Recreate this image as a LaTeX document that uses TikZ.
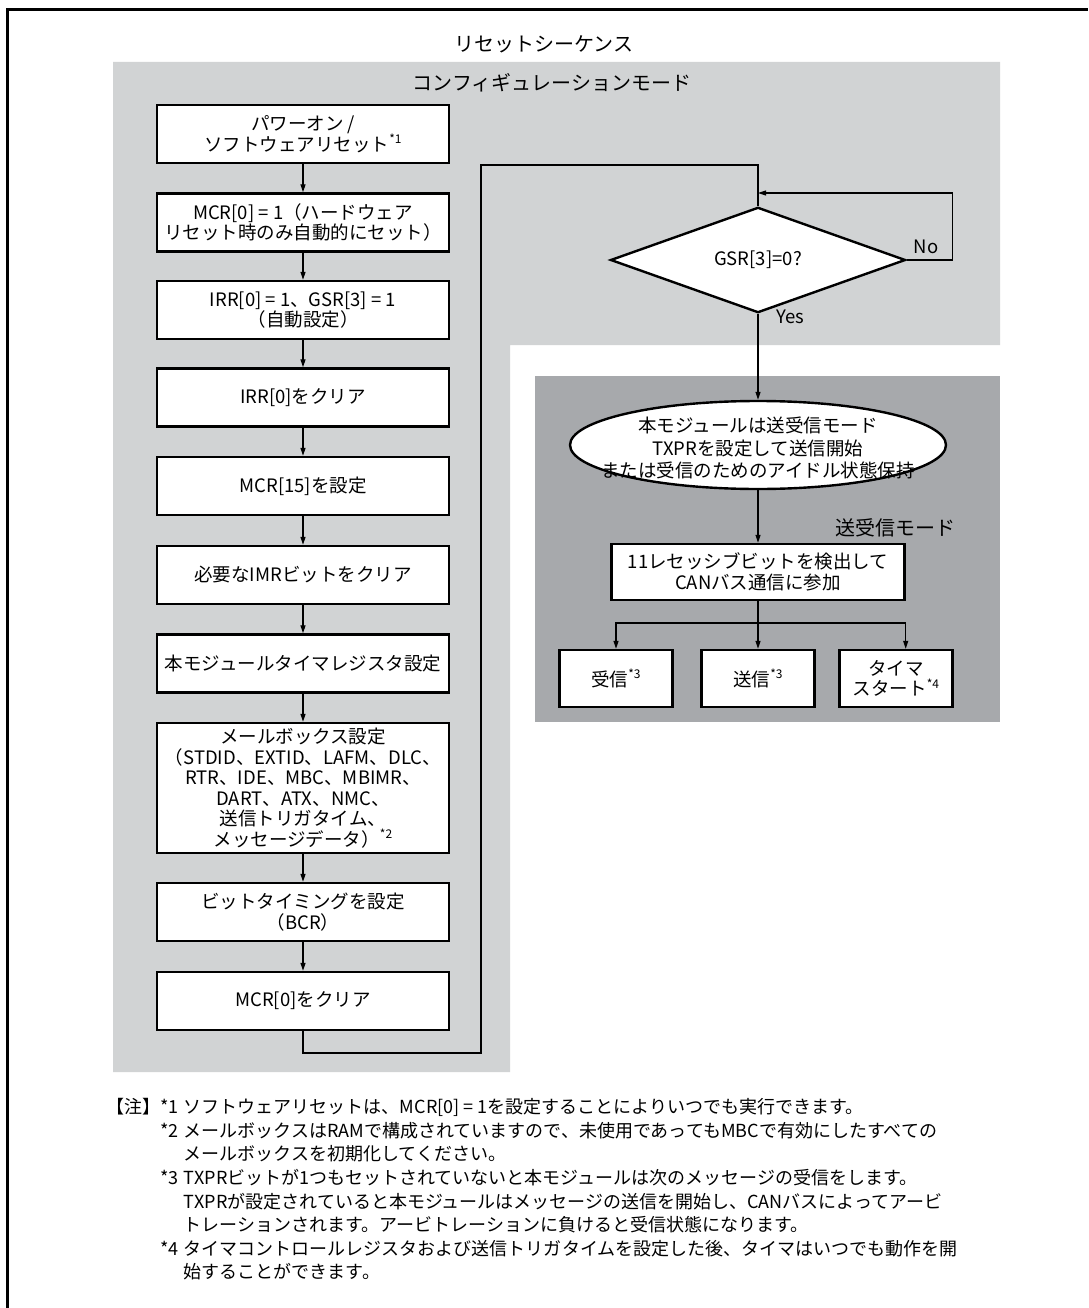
\documentclass[tikz,border=0pt]{standalone}
\usepackage{fontspec}
\setmainfont{Noto Sans CJK JP}
\usepackage{xcolor}
\usepackage{tikz}
\usetikzlibrary{shapes.geometric,arrows.meta,positioning,calc}
\definecolor{cfggray}{RGB}{209,211,212}
\definecolor{trxgray}{RGB}{167,169,172}
\newcommand{\boxfont}{\fontsize{18.5}{20.5}\selectfont}
\newcommand{\ttlfont}{\fontsize{20}{24}\selectfont}
\newcommand{\notefont}{\fontsize{18}{23.6}\selectfont}
\newcommand{\stref}[1]{\raisebox{0.4em}{\fontsize{12}{12}\selectfont *#1}}
\tikzset{
  stepbox/.style={rectangle, draw, line width=2.4pt, fill=white, minimum height=58pt,
              minimum width=292pt, inner sep=3pt, align=center, font=\boxfont},
  smallbox/.style={stepbox, minimum width=113pt, minimum height=57pt},
  decbox/.style={diamond, draw, line width=2.4pt, fill=white, minimum width=295pt,
              minimum height=88pt, inner sep=0pt, font=\boxfont},
  idlebox/.style={ellipse, draw, line width=2.4pt, fill=white, minimum width=376pt,
              minimum height=88pt, inner sep=0pt},
  ttl/.style={inner sep=0pt, font=\ttlfont},
  lbl/.style={inner sep=0pt, font=\boxfont},
  conn/.style={line width=1.1pt},
  arr/.style={conn, -{Triangle[length=8pt,width=5pt]}},
  frame/.style={line width=3pt}
}
\begin{document}
\begin{tikzpicture}[x=1pt,y=-1pt]
  \fill[white] (0,0) rectangle (1088,1308);
  \useasboundingbox (0,0) rectangle (1088,1308);
  \fill[cfggray] (113,62) -- (1000,62) -- (1000,345) -- (510,345) -- (510,1072) -- (113,1072) -- cycle;
  \fill[trxgray] (535,376) rectangle (1000,722);
  \draw[frame] (7,1308) |- (1088,10);

  \node[ttl] (seq) at (544,44) {リセットシーケンス};
  \node[ttl] (cfg) at (552,83) {コンフィギュレーションモード};
  \node[ttl] (trx) at (895,528) {送受信モード};

  \node[stepbox] (pwr) at (303,134) {パワーオン /\\ソフトウェアリセット\stref{1}};
  \node[stepbox] (mcrset) at (303,222.5) {MCR[0] = 1（ハードウェア\\リセット時のみ自動的にセット）};
  \node[stepbox] (irrset) at (303,310) {IRR[0] = 1、GSR[3] = 1\\（自動設定）};
  \node[stepbox] (irrclr) at (303,397.5) {IRR[0]をクリア};
  \node[stepbox] (mcr15) at (303,486) {MCR[15]を設定};
  \node[stepbox] (imr) at (303,575) {必要なIMRビットをクリア};
  \node[stepbox] (tmrreg) at (303,663.5) {本モジュールタイマレジスタ設定};
  \node[stepbox, minimum height=130pt] (mbx) at (303,788) {メールボックス設定\\（STDID、EXTID、LAFM、DLC、\\RTR、IDE、MBC、MBIMR、\\DART、ATX、NMC、\\送信トリガタイム、\\メッセージデータ）\stref{2}};
  \node[stepbox] (bcr) at (303,912) {ビットタイミングを設定\\（BCR）};
  \node[stepbox] (mcrclr) at (303,1001) {MCR[0]をクリア};
  \foreach \a/\b in {pwr/mcrset,mcrset/irrset,irrset/irrclr,irrclr/mcr15,mcr15/imr,imr/tmrreg,tmrreg/mbx,mbx/bcr,bcr/mcrclr}
    \draw[arr] (\a) -- (\b);

  \node[decbox] (chk) at (758,260) {GSR[3]=0?};
  \node[lbl] (no) at (926,247) {No};
  \node[lbl] (yes) at (790,317) {Yes};
  \coordinate (lpbot) at (481,1053);
  \coordinate (lptop) at (481,165);
  \draw[conn] (mcrclr.south) |- (lpbot) -- (lptop) -| (chk.north);
  \coordinate (nojoin) at (758,193);
  \draw[arr] (chk.east) -- ++(46,0) |- (nojoin);

  \node[idlebox] (idle) at (758,445) {};
  \node[lbl, align=center, font=\fontsize{18.5}{22.5}\selectfont] (idlemsg) at (758,448) {本モジュールは送受信モード\\TXPRを設定して送信開始\\または受信のためのアイドル状態保持};
  \draw[arr] (chk.south) -- (idle.north);
  \node[stepbox, minimum width=293pt, minimum height=56pt] (canjoin) at (758,572) {11レセッシブビットを検出して\\CANバス通信に参加};
  \draw[arr] (idle.south) -- (canjoin.north);

  \node[smallbox] (rx) at (616,678.5) {受信\stref{3}};
  \node[smallbox] (tx) at (758,678.5) {送信\stref{3}};
  \node[smallbox] (tmr) at (896,678.5) {タイマ\\スタート\stref{4}};
  \coordinate (fork) at (758,623);
  \draw[conn] (canjoin.south) -- (fork);
  \draw[arr] (fork) -| (rx.north);
  \draw[arr] (fork) -- (tx.north);
  \draw[arr] (fork) -| (canjoin.east |- tmr.north);

  \node[inner sep=0pt, anchor=north west, font=\notefont] (notes) at (106,1097) {%
    \begin{tabular}{@{}l@{}l@{\hspace{0.3em}}l@{}}
      【注】 & *1 & ソフトウェアリセットは、MCR[0] = 1を設定することによりいつでも実行できます。\\
       & *2 & メールボックスはRAMで構成されていますので、未使用であってもMBCで有効にしたすべての\\
       & & メールボックスを初期化してください。\\
       & *3 & TXPRビットが1つもセットされていないと本モジュールは次のメッセージの受信をします。\\
       & & TXPRが設定されていると本モジュールはメッセージの送信を開始し、CANバスによってアービ\\
       & & トレーションされます。アービトレーションに負けると受信状態になります。\\
       & *4 & タイマコントロールレジスタおよび送信トリガタイムを設定した後、タイマはいつでも動作を開\\
       & & 始することができます。
    \end{tabular}};
\end{tikzpicture}
\end{document}
